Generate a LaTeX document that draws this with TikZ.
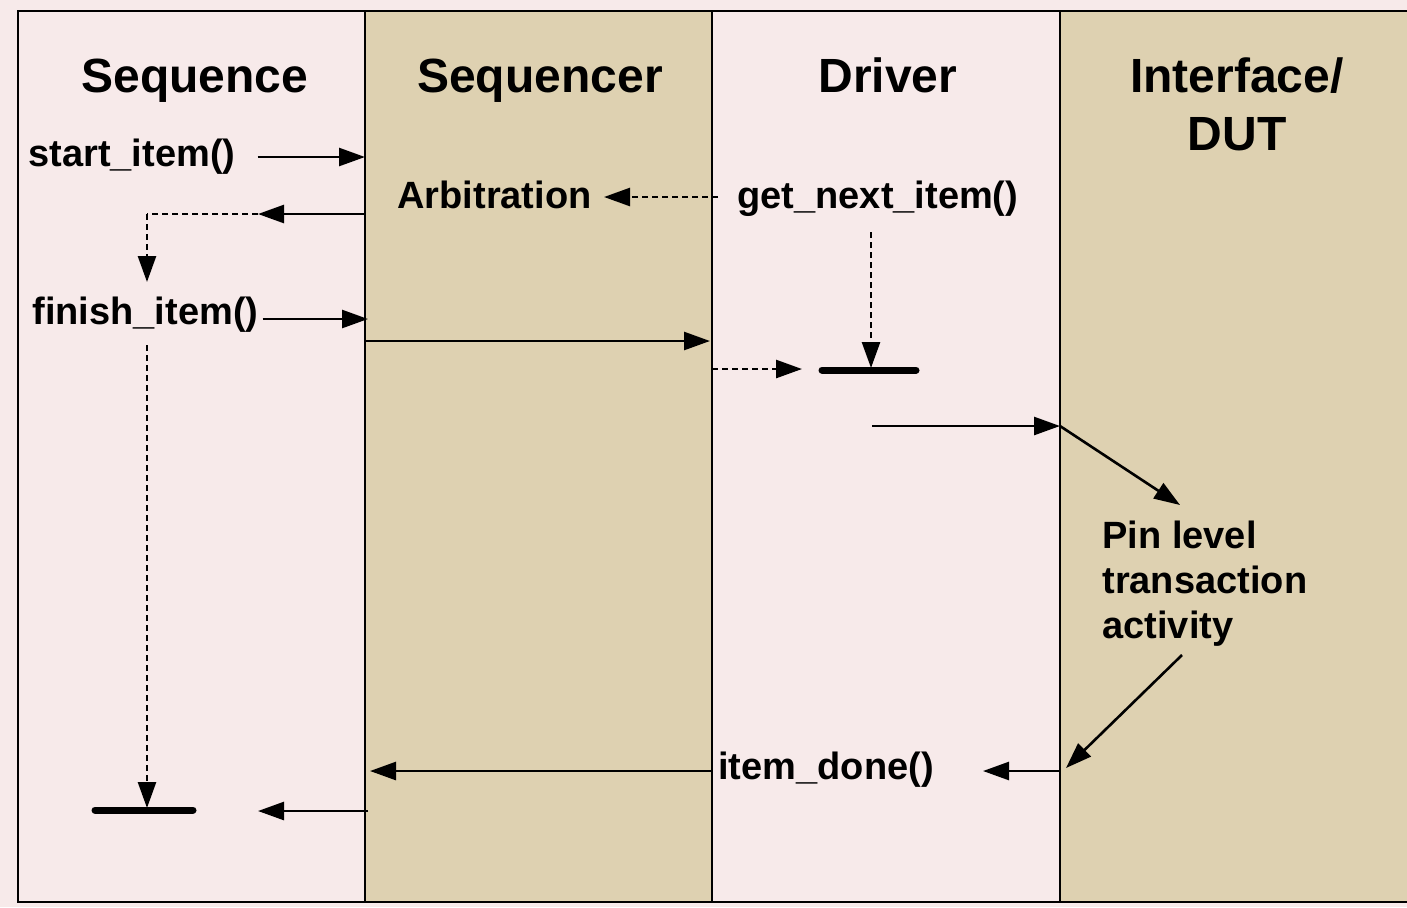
\documentclass[tikz,border=0pt]{standalone}
\usepackage{fontspec}
\setmainfont{Liberation Sans}
\usetikzlibrary{arrows.meta}
\usetikzlibrary{positioning}

\definecolor{lanepink}{RGB}{247,234,234}
\definecolor{lanetan}{RGB}{222,209,177}

\tikzset{
  lanetitle/.style={font=\bfseries\fontsize{24}{29}\selectfont, align=center, inner sep=0pt},
  call/.style={font=\bfseries\fontsize{19}{22.5}\selectfont, inner sep=0pt},
  flow/.style={line width=1.3pt, -{Triangle[length=13pt,width=9pt]}},
  hint/.style={flow, dash pattern=on 3pt off 2pt},
  hintline/.style={line width=1.3pt, dash pattern=on 3pt off 2pt},
  waitbar/.style={line width=3.5pt, line cap=round},
}

\begin{document}
\begin{tikzpicture}[x=0.5pt,y=-0.5pt]
  \useasboundingbox (0,0) rectangle (1407,907);
  \fill[lanepink] (0,0) rectangle (1407,907);

  %lanes
  \fill[lanetan] (365,11) rectangle (712,902);
  \fill[lanetan] (1060,11) rectangle (1410,902);
  \draw[line width=1pt] (18,11) rectangle (1412,902);
  \draw[line width=1pt] (365,11) -- (365,902);
  \draw[line width=1pt] (712,11) -- (712,902);
  \draw[line width=1pt] (1060,11) -- (1060,902);

  %lane titles
  \node[lanetitle, anchor=base] (seqT) at (195,92) {Sequence};
  \node[lanetitle, anchor=base] (sqrT) at (540,92) {Sequencer};
  \node[lanetitle, anchor=base] (drvT) at (888,92) {Driver};
  \node[lanetitle] (dutT) at (1237,104) {Interface/\\DUT};

  %calls
  \node[call, anchor=west] (start)   at (28,157)  {start\_item()};
  \node[call, anchor=west] (finish)  at (32,315)  {finish\_item()};
  \node[call, anchor=west] (arbit)   at (397,195) {Arbitration};
  \node[call, anchor=west] (getnext) at (737,199) {get\_next\_item()};
  \node[call, anchor=west] (done)    at (718,770) {item\_done()};
  \node[call, anchor=north west, align=left] (pins) at (1102,521)
    {Pin level\\transaction\\activity};

  %end points
  \coordinate (startIn)  at (365,157);
  \coordinate (grantOut) at (365,214);
  \coordinate (grantTip) at (258,214);
  \coordinate (grantBnd) at (147,214);
  \coordinate (grantDn)  at (147,282);
  \coordinate (finIn)    at (368,319);
  \coordinate (arbOut)   at (718,197);
  \coordinate (sendOut)  at (365,341);
  \coordinate (sendIn)   at (710,341);
  \coordinate (drvOut)   at (712,369);
  \coordinate (drvTip)   at (802,369);
  \coordinate (drvBarL)  at (822,370);
  \coordinate (drvBarR)  at (916,370);
  \coordinate (getDn)    at (871,232);
  \coordinate (getBar)   at (871,368);
  \coordinate (pinOut)   at (872,426);
  \coordinate (pinIn)    at (1060,426);
  \coordinate (pinTip)   at (1180,505);
  \coordinate (actOut)   at (1182,655);
  \coordinate (actTip)   at (1066,768);
  \coordinate (doneOut)  at (1060,771);
  \coordinate (doneTip)  at (983,771);
  \coordinate (backOut)  at (712,771);
  \coordinate (backTip)  at (370,771);
  \coordinate (seqDn)    at (147,345);
  \coordinate (seqBar)   at (147,808);
  \coordinate (seqBarL)  at (95,810);
  \coordinate (seqBarR)  at (193,810);
  \coordinate (retOut)   at (368,811);
  \coordinate (retTip)   at (258,811);

  %sequence side
  \draw[flow] ([xshift=11pt]start.east) -- (startIn);
  \draw[flow] (grantOut) -- (grantTip);
  \draw[hintline] (grantTip) -- (grantBnd);
  \draw[hint] (grantBnd) -- (grantDn);
  \draw[flow] ([xshift=2pt]finish.east |- finIn) -- (finIn);
  \draw[hint] (seqDn) -- (seqBar);
  \draw[waitbar] (seqBarL) -- (seqBarR);
  \draw[flow] (retOut) -- (retTip);

  %sequencer and driver
  \draw[hint] (arbOut) -- ([xshift=6pt]arbit.east |- arbOut);
  \draw[flow] (sendOut) -- (sendIn);
  \draw[hint] (drvOut) -- (drvTip);
  \draw[hint] (getDn) -- (getBar);
  \draw[waitbar] (drvBarL) -- (drvBarR);

  %interface
  \draw[flow] (pinOut) -- (pinIn);
  \draw[flow] (pinIn) -- (pinTip);
  \draw[flow] (actOut) -- (actTip);
  \draw[flow] (doneOut) -- (doneTip);
  \draw[flow] (backOut) -- (backTip);
\end{tikzpicture}
\end{document}
